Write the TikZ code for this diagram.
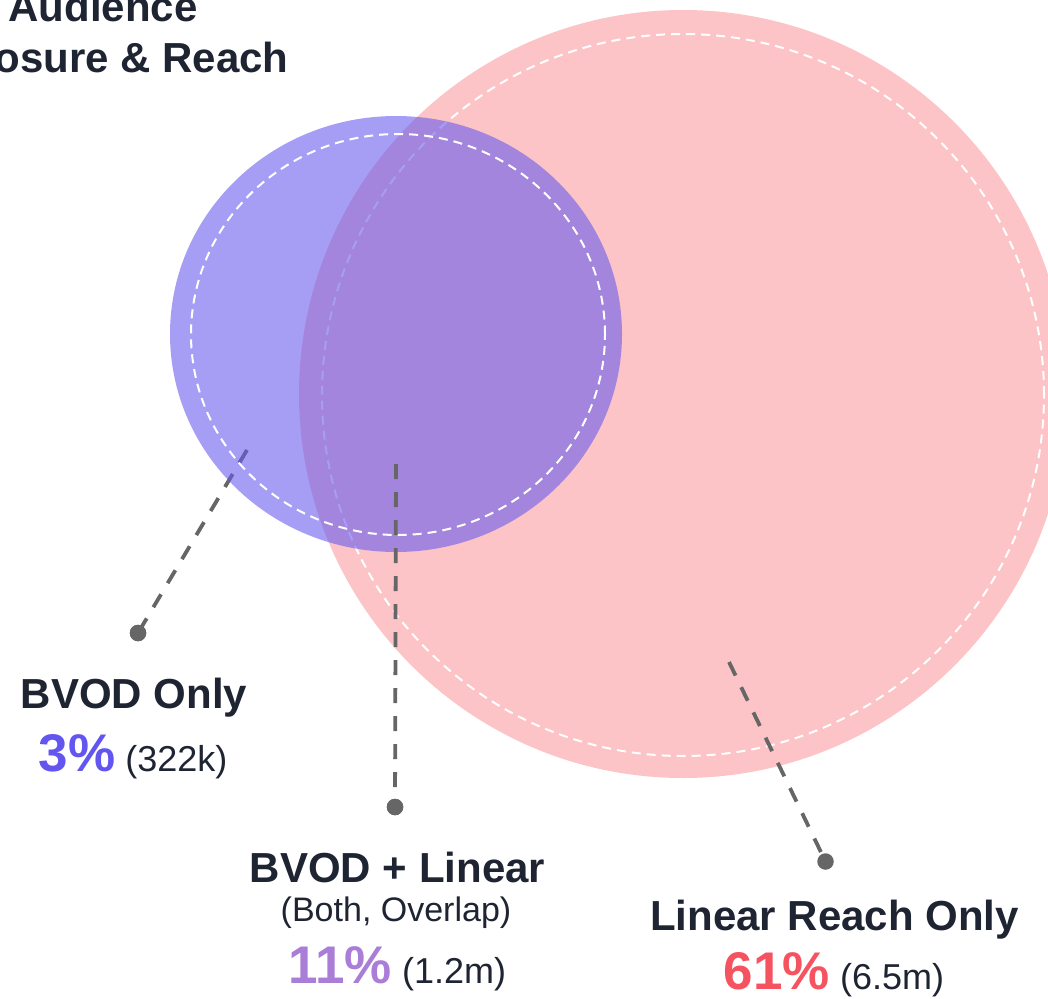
\documentclass[tikz,border=0pt]{standalone}
\usepackage{fontspec}
\setmainfont{Liberation Sans}
\definecolor{ink}{RGB}{31,36,51}
\definecolor{pinkfill}{RGB}{252,196,198}
\definecolor{bluebase}{RGB}{102,88,238}
\definecolor{bvodc}{RGB}{99,85,240}
\definecolor{bothc}{RGB}{170,125,215}
\definecolor{linc}{RGB}{245,83,95}
\definecolor{leadc}{RGB}{102,102,102}
\begin{document}
\begin{tikzpicture}[x=1pt,y=-1pt,
  lead/.style={draw=leadc, line width=3.8pt, dash pattern=on 15pt off 13pt},
  ring/.style={draw=white, line width=2pt, dash pattern=on 9pt off 6pt},
  dot/.style={circle, fill=leadc, inner sep=0pt, minimum size=16.5pt},
  head/.style={anchor=base, inner sep=0pt, text=ink, font=\fontsize{42}{50}\selectfont\bfseries},
  note/.style={anchor=base, inner sep=0pt, text=ink, font=\fontsize{34}{40}\selectfont},
  figs/.style={anchor=base, inner sep=0pt, text=ink, font=\fontsize{36}{42}\selectfont}]
\useasboundingbox (0,0) rectangle (1048,998);
\clip (0,0) rectangle (1048,998);
% circles
\fill[pinkfill] (683,394) circle [radius=384pt];
\draw[ring] (683,395) circle [radius=361pt];
\coordinate (s1) at (247,450);
\node[dot] (d1) at (138,633) {};
\draw[lead] (s1) -- (d1.center);
\fill[bluebase, fill opacity=0.58] (396,334) ellipse [x radius=226pt, y radius=218pt];
\draw[ring] (398,334.5) ellipse [x radius=207pt, y radius=200.5pt];
\coordinate (s2) at (396,464);
\node[dot] (d2) at (395,807) {};
\draw[lead] (s2) -- (d2.center);
\coordinate (s3) at (729,662);
\node[dot] (d3) at (825.5,861.5) {};
\draw[lead] (s3) -- (d3.center);
\node[dot] at (d1) {};
\node[dot] at (d2) {};
% title
\node[head] (t1) at (103,22) {Audience};
\node[head] (t2) at (103,72) {Exposure \& Reach};
% labels
\node[head] (l1) at (134,708) {BVOD Only};
\node[figs] (v1) at (133,771) {{\fontsize{53}{60}\selectfont\bfseries\color{bvodc}3\%} (322k)};
\node[head] (l2) at (397.5,882) {BVOD + Linear};
\node[note] (n2) at (396,921) {(Both, Overlap)};
\node[figs] (v2) at (397.5,983) {{\fontsize{53}{60}\selectfont\bfseries\color{bothc}11\%} (1.2m)};
\node[head] (l3) at (834.5,930.5) {Linear Reach Only};
\node[figs] (v3) at (834,989) {{\fontsize{53}{60}\selectfont\bfseries\color{linc}61\%} (6.5m)};
\end{tikzpicture}
\end{document}
